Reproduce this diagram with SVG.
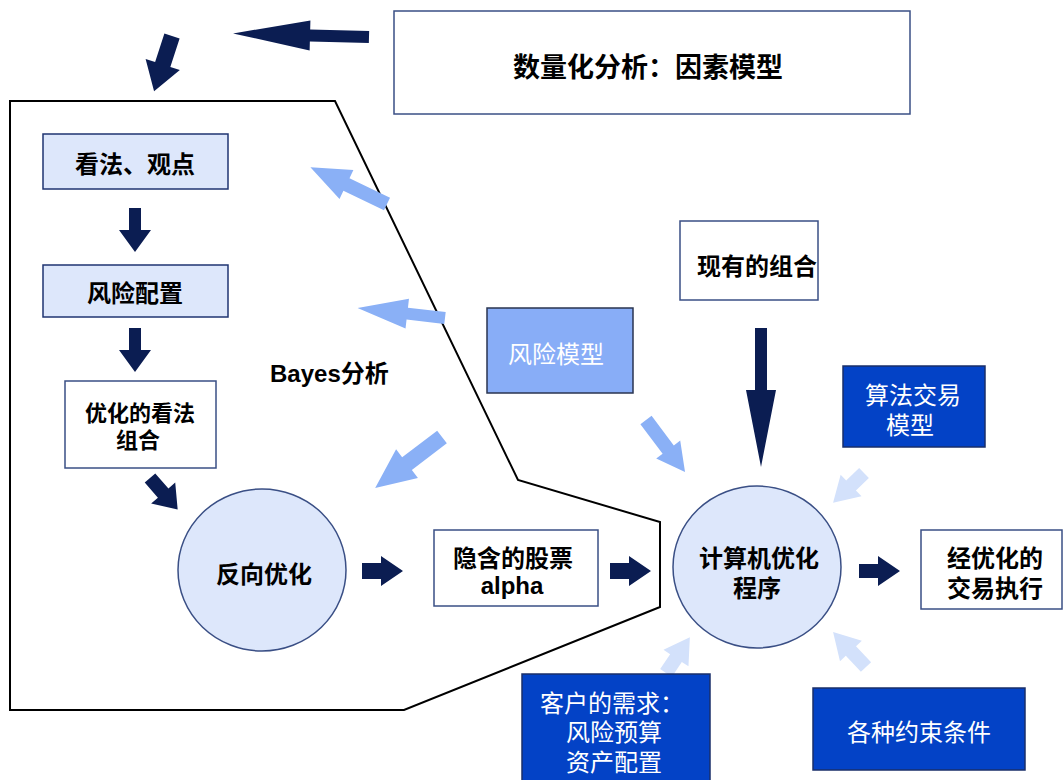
<svg xmlns="http://www.w3.org/2000/svg" width="1064" height="780" viewBox="0 0 1064 780">
<style>
.t{font-family:"Noto Sans CJK SC","Liberation Sans",sans-serif;font-weight:bold;font-size:24px;text-anchor:middle;dominant-baseline:central;fill:#000}
.w{fill:#fff;font-weight:normal}
.lat{font-family:"Liberation Sans","Noto Sans CJK SC",sans-serif}
.box{fill:#fff;stroke:#3a4f85;stroke-width:1.5}
.lb{fill:#dde7fb;stroke:#1f3472;stroke-width:1.5}
.db{fill:#0342c6;stroke:#1a2f6a;stroke-width:1.5}
.rb{fill:#88adf7;stroke:#2a3550;stroke-width:1.5}
.nav{fill:#0b1d52}
.lt{fill:#8ab0f6}
.vl{fill:#d3e1fb}
</style>
<rect width="1064" height="780" fill="#fff"/>
<g id="region">
<polygon points="10,101 335,101 518,480 660,522 660,607 404,710 10,710" fill="none" stroke="#000" stroke-width="2"/>
<text class="t lat" x="270" y="373" style="text-anchor:start">Bayes分析</text>
</g>
<g id="connectors">
<polygon class="nav" transform="translate(369,37) rotate(181.5)" points="0,-6 59,-6 59,-15 136,0 59,15 59,6 0,6"/>
<polygon class="nav" transform="translate(172,36) rotate(108)" points="0,-8 30,-8 30,-18 58,0 30,18 30,8 0,8"/>
<polygon class="nav" transform="translate(135,208) rotate(90)" points="0,-6 22,-6 22,-16 44,0 22,16 22,6 0,6"/>
<polygon class="nav" transform="translate(135,328) rotate(90)" points="0,-6 22,-6 22,-16 44,0 22,16 22,6 0,6"/>
<polygon class="nav" transform="translate(150,478) rotate(48.8)" points="0,-7 20,-7 20,-16 42,0 20,16 20,7 0,7"/>
<polygon class="nav" transform="translate(362,571)" points="0,-8 19,-8 19,-15 41,0 19,15 19,8 0,8"/>
<polygon class="nav" transform="translate(610,571)" points="0,-8 19,-8 19,-15 41,0 19,15 19,8 0,8"/>
<polygon class="nav" transform="translate(859,571)" points="0,-7 19,-7 19,-15 41,0 19,15 19,7 0,7"/>
<polygon class="nav" transform="translate(761,328) rotate(90)" points="0,-6 62,-6 62,-15 139,0 62,15 62,6 0,6"/>
<polygon class="lt" transform="translate(387,204) rotate(205.7)" points="0,-7 45,-7 45,-16 85,0 45,16 45,7 0,7"/>
<polygon class="lt" transform="translate(445,318) rotate(186.6)" points="0,-6 38,-6 38,-15 88,0 38,15 38,6 0,6"/>
<polygon class="lt" transform="translate(442,437) rotate(142.7)" points="0,-8 44,-8 44,-18 84,0 44,18 44,8 0,8"/>
<polygon class="lt" transform="translate(646,420) rotate(53.1)" points="0,-7 37,-7 37,-15 65,0 37,15 37,7 0,7"/>
<polygon class="vl" transform="translate(864,473) rotate(136)" points="0,-7 18,-7 18,-15 43,0 18,15 18,7 0,7"/>
<polygon class="vl" transform="translate(666,673) rotate(-56.3)" points="0,-7 18,-7 18,-15 43,0 18,15 18,7 0,7"/>
<polygon class="vl" transform="translate(866,667) rotate(226.7)" points="0,-7 22,-7 22,-15 48,0 22,15 22,7 0,7"/>
</g>
<g id="n_factor">
<rect class="box" x="394" y="11" width="516" height="103"/>
<text class="t" x="648" y="65" style="font-size:27px">数量化分析：因素模型</text>
</g>
<g id="n_view">
<rect class="lb" x="43" y="134" width="185" height="55"/>
<text class="t" x="135" y="162">看法、观点</text>
</g>
<g id="n_riskcfg">
<rect class="lb" x="43" y="265" width="185" height="52"/>
<text class="t" x="135" y="291">风险配置</text>
</g>
<g id="n_optview">
<rect class="box" x="65" y="381" width="151" height="87"/>
<text class="t" style="font-size:22px"><tspan x="140" y="411">优化的看法</tspan><tspan x="138" y="438">组合</tspan></text>
</g>
<g id="n_reverse">
<ellipse cx="262" cy="570" rx="84" ry="81" fill="#dde7fb" stroke="#3a4f85" stroke-width="1.5"/>
<text class="t" x="264" y="572">反向优化</text>
</g>
<g id="n_alpha">
<rect class="box" x="434" y="530" width="164" height="76"/>
<text class="t"><tspan x="513" y="556">隐含的股票</tspan><tspan class="lat" x="512" y="585">alpha</tspan></text>
</g>
<g id="n_riskmodel">
<rect class="rb" x="487" y="308" width="146" height="85"/>
<text class="t w" x="556" y="352">风险模型</text>
</g>
<g id="n_current">
<rect class="box" x="680" y="221" width="138" height="79"/>
<text class="t" x="757" y="264">现有的组合</text>
</g>
<g id="n_algo">
<rect class="db" x="843" y="366" width="142" height="81"/>
<text class="t w"><tspan x="913" y="393">算法交易</tspan><tspan x="910" y="423">模型</tspan></text>
</g>
<g id="n_computer">
<ellipse cx="757" cy="567" rx="84" ry="81" fill="#dde7fb" stroke="#3a4f85" stroke-width="1.5"/>
<text class="t"><tspan x="759" y="556">计算机优化</tspan><tspan x="757" y="586">程序</tspan></text>
</g>
<g id="n_exec">
<rect class="box" x="921" y="530" width="141" height="79"/>
<text class="t"><tspan x="995" y="556">经优化的</tspan><tspan x="995" y="586">交易执行</tspan></text>
</g>
<g id="n_client">
<rect class="db" x="522" y="674" width="188" height="110"/>
<text class="t w"><tspan x="612" y="701">客户的需求：</tspan><tspan x="614" y="730">风险预算</tspan><tspan x="614" y="760">资产配置</tspan></text>
</g>
<g id="n_constraints">
<rect class="db" x="813" y="688" width="212" height="82"/>
<text class="t w" x="919" y="730">各种约束条件</text>
</g>
</svg>
